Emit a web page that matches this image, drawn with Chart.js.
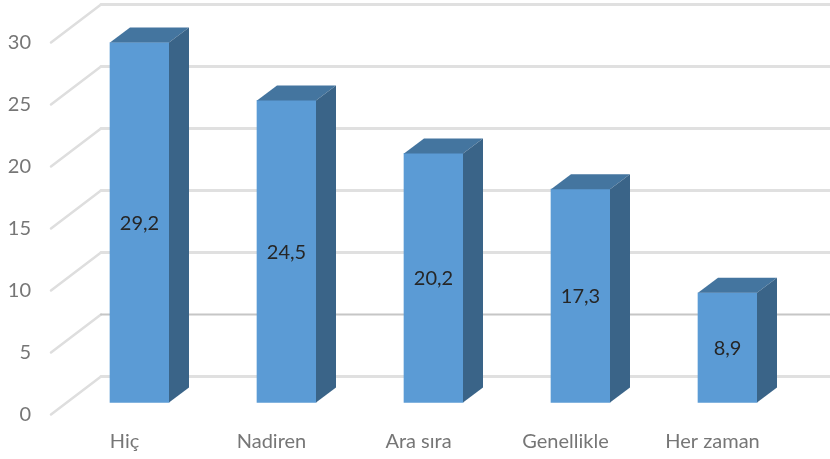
<!DOCTYPE html>
<html>
<head>
<meta charset="utf-8">
<style>
  html, body { margin: 0; padding: 0; background: #fff; }
  #wrap { width: 830px; height: 459px; }
</style>
<script src="https://cdn.jsdelivr.net/npm/chart.js@4"></script>
</head>
<body>
<div id="wrap"><canvas id="chart" width="830" height="459"></canvas></div>
<script>
const categories = ["Hiç", "Nadiren", "Ara sıra", "Genellikle", "Her zaman"];
const values = [29.2, 24.5, 20.2, 17.3, 8.9];
const valueLabels = ["29,2", "24,5", "20,2", "17,3", "8,9"];
const wallTicks = [0, 5, 10, 15, 20, 25, 30];

// depth of the box sides and of the back wall
const barDepth = { x: 20, y: -15 };
const wallDepth = { x: 50, y: -38 };

// 3D box sides, walls and value labels
const box3d = {
  id: "box3d",
  beforeDatasetsDraw(chart) {
    const ctx = chart.ctx;
    const y = chart.scales.y;
    const startX = chart.chartArea.left - 15;
    ctx.save();
    ctx.lineCap = "round";
    wallTicks.forEach(t => {
      const py = y.getPixelForValue(t);
      // floor edge
      ctx.strokeStyle = "#dedede";
      ctx.lineWidth = 2.5;
      ctx.beginPath();
      ctx.moveTo(startX, py);
      ctx.lineTo(startX + wallDepth.x, py + wallDepth.y);
      ctx.stroke();
      // the 5 line comes out thinner and darker in the original
      ctx.strokeStyle = t === 5 ? "#c6c6c6" : "#e0e0e0";
      ctx.lineWidth = t === 5 ? 2 : 3;
      ctx.beginPath();
      ctx.moveTo(startX + wallDepth.x, py + wallDepth.y);
      ctx.lineTo(830, py + wallDepth.y);
      ctx.stroke();
    });
    ctx.restore();
  },
  afterDatasetsDraw(chart) {
    const ctx = chart.ctx;
    const bars = chart.getDatasetMeta(0).data;
    ctx.save();
    bars.forEach((bar, i) => {
      const left = bar.x - bar.width / 2;
      const right = bar.x + bar.width / 2;
      // top face
      ctx.fillStyle = "#44759F";
      ctx.beginPath();
      ctx.moveTo(left, bar.y);
      ctx.lineTo(left + barDepth.x, bar.y + barDepth.y);
      ctx.lineTo(right + barDepth.x, bar.y + barDepth.y);
      ctx.lineTo(right, bar.y);
      ctx.closePath();
      ctx.fill();
      // side face
      ctx.fillStyle = "#3A6488";
      ctx.beginPath();
      ctx.moveTo(right, bar.y);
      ctx.lineTo(right + barDepth.x, bar.y + barDepth.y);
      ctx.lineTo(right + barDepth.x, bar.base + barDepth.y);
      ctx.lineTo(right, bar.base);
      ctx.closePath();
      ctx.fill();
      // value label
      ctx.fillStyle = "#262626";
      ctx.font = "20px Lato";
      ctx.textAlign = "center";
      ctx.textBaseline = "middle";
      ctx.fillText(valueLabels[i], bar.x, (bar.y + bar.base) / 2 + 1);
    });
    ctx.restore();
  }
};

new Chart(document.getElementById("chart"), {
  type: "bar",
  data: {
    labels: categories,
    datasets: [{
      data: values,
      yAxisID: "yBar",
      backgroundColor: "#5B9BD5",
      barThickness: 59,
      clip: false
    }]
  },
  options: {
    responsive: false,
    animation: false,
    layout: { padding: { top: 42.5, right: 29, bottom: 0, left: 0 } },
    plugins: { legend: { display: false }, tooltip: { enabled: false } },
    scales: {
      x: {
        afterFit(scale) { scale.height = 44.5; },
        grid: { display: false },
        border: { display: false },
        ticks: { color: "#767676", font: { family: "Lato", size: 20 }, padding: 7, labelOffset: -15, maxRotation: 0 }
      },
      y: {
        min: 0,
        max: 30,
        afterFit(scale) { scale.width = 66; },
        grid: { display: false },
        border: { display: false },
        ticks: { stepSize: 5, color: "#767676", font: { family: "Lato", size: 20 }, padding: 27 }
      },
      // bars stand a little inside the floor, so they get their own scale
      yBar: {
        display: false,
        min: -0.98,
        max: 29.2
      }
    }
  },
  plugins: [box3d]
});
</script>
</body>
</html>
